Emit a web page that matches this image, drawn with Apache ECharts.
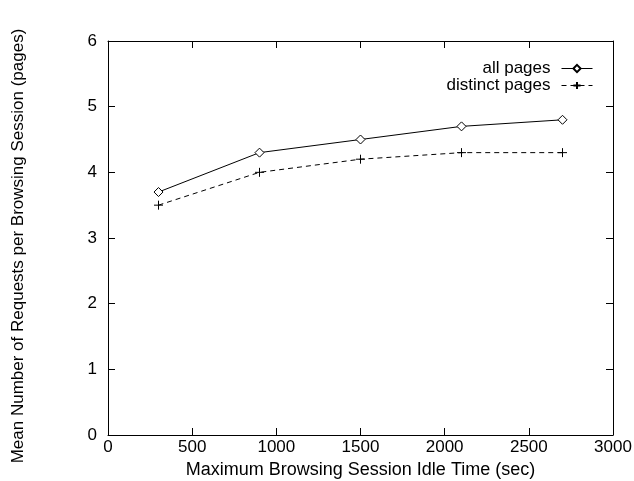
<!DOCTYPE html>
<html><head><meta charset="utf-8">
<script src="https://cdn.jsdelivr.net/npm/echarts@6/dist/echarts.min.js"></script>
<style>html,body{margin:0;padding:0;background:#fff}#c{width:634px;height:481px}</style>
</head><body><div id="c"></div>
<script>
var idleTimes = [300, 900, 1500, 2100, 2700];
var allPages = [3.7, 4.3, 4.5, 4.7, 4.8];
var distinctPages = [3.5, 4.0, 4.2, 4.3, 4.3];
var seriesNames = ['all pages', 'distinct pages'];
var xAxisTitle = 'Maximum Browsing Session Idle Time (sec)';
var yAxisTitle = 'Mean Number of Requests per Browsing Session (pages)';

var font = 'Liberation Sans, Arial, Helvetica, sans-serif';
var plusPath = 'path://M0,5L10,5M5,0L5,10';
function pairs(xs, ys){ return xs.map(function(x,i){return [x, ys[i]];}); }
var axLine = {show:true, onZero:false, lineStyle:{color:'#000', width:1}};
var tick = {show:true, inside:true, length:7, lineStyle:{color:'#000', width:1}};
var chart = echarts.init(document.getElementById('c'), null, {renderer:'canvas'});
chart.setOption({
  animation:false,
  backgroundColor:'#fff',
  textStyle:{fontFamily:font},
  grid:{left:108, right:21, top:41, bottom:46, containLabel:false, outerBoundsMode:'none'},
  legend:{
    right:36, top:55, orient:'vertical', align:'right', itemWidth:31, itemHeight:9, itemGap:0,
    textStyle:{fontFamily:font, fontSize:17, lineHeight:17, color:'#000', padding:[0,6,0,0]},
    lineStyle:{width:1},
    data:[{name:seriesNames[0]},{name:seriesNames[1]}]
  },
  xAxis:[{
    type:'value', min:0, max:3000, interval:500, position:'bottom',
    axisLine:axLine, axisTick:tick, splitLine:{show:false},
    axisLabel:{color:'#000', fontSize:17, fontFamily:font, margin:4, formatter:function(v){return String(v);}},
    name:xAxisTitle, nameLocation:'middle', nameGap:25,
    nameTextStyle:{color:'#000', fontSize:18, fontFamily:font}
  },{
    type:'value', min:0, max:3000, interval:500, position:'top',
    axisLine:axLine, axisTick:tick, splitLine:{show:false}, axisLabel:{show:false}
  }],
  yAxis:[{
    type:'value', min:0, max:6, interval:1, position:'left',
    axisLine:axLine, axisTick:tick, splitLine:{show:false},
    axisLabel:{color:'#000', fontSize:17, fontFamily:font, margin:11},
    name:yAxisTitle, nameLocation:'middle', nameGap:81,
    nameTextStyle:{color:'#000', fontSize:17, fontFamily:font, padding:[0,16,0,0]}
  },{
    type:'value', min:0, max:6, interval:1, position:'right',
    axisLine:axLine, axisTick:tick, splitLine:{show:false}, axisLabel:{show:false}
  }],
  series:[{
    name:seriesNames[0], type:'line', data:pairs(idleTimes, allPages),
    symbol:'diamond', symbolSize:9, showAllSymbol:true,
    lineStyle:{color:'#000', width:1}, itemStyle:{color:'#fff', borderColor:'#000', borderWidth:1},
    emphasis:{disabled:true}
  },{
    name:seriesNames[1], type:'line', data:pairs(idleTimes, distinctPages),
    symbol:plusPath, symbolSize:9, showAllSymbol:true,
    lineStyle:{color:'#000', width:1, type:[5,4]}, itemStyle:{color:'none', borderColor:'#000', borderWidth:1},
    emphasis:{disabled:true}
  }]
});
</script></body></html>
